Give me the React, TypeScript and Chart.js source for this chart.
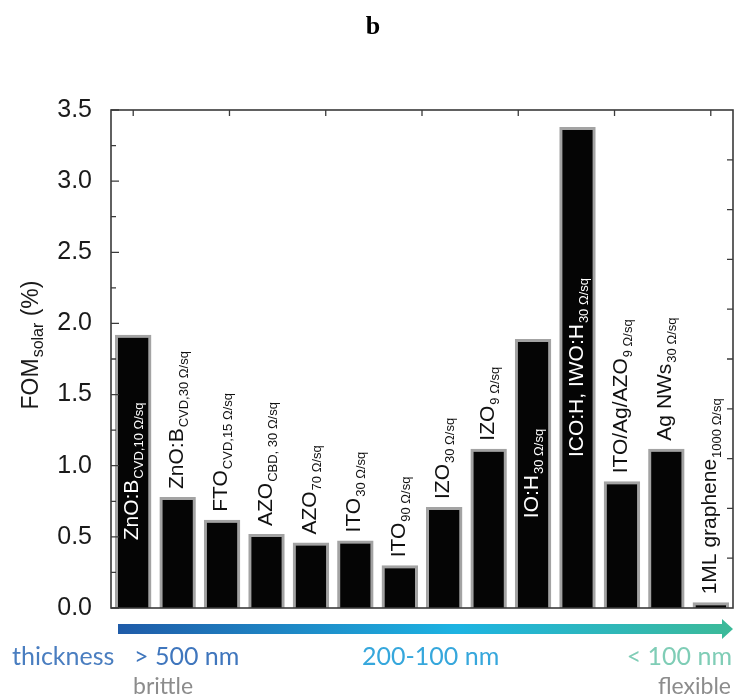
import React, { useEffect, useRef } from "react";
import { Chart, registerables } from "chart.js";

Chart.register(...registerables);

// Transparent conductor films and their solar figure of merit
const materials = [
  "ZnO:B", "ZnO:B", "FTO", "AZO", "AZO", "ITO", "ITO",
  "IZO", "IZO", "IO:H", "ICO:H, IWO:H", "ITO/Ag/AZO", "Ag NWs", "1ML graphene",
];
const subscripts = [
  "CVD,10 Ω/sq", "CVD,30 Ω/sq", "CVD,15 Ω/sq", "CBD, 30 Ω/sq", "70 Ω/sq", "30 Ω/sq", "90 Ω/sq",
  "30 Ω/sq", "9 Ω/sq", "30 Ω/sq", "30 Ω/sq", "9 Ω/sq", "30 Ω/sq", "1000 Ω/sq",
];
const fomSolar = [1.92, 0.78, 0.62, 0.52, 0.46, 0.475, 0.3, 0.71, 1.12, 1.89, 3.38, 0.89, 1.12, 0.04];
// captions written in white inside the bar (true) or in black above it
const captionInside = [true, false, false, false, false, false, false, false, false, true, true, false, false, false];

const yMajorTicks = [0, 0.5, 1.0, 1.5, 2.0, 2.5, 3.0, 3.5];
const yMinorTicks = [0.25, 0.75, 1.25, 1.75, 2.25, 2.75, 3.25];

const thicknessTitle = "thickness";
const thicknessLabels = ["> 500 nm", "200-100 nm", "< 100 nm"];
const flexLabels = ["brittle", "flexible"];
const panelLetter = "b";

const SANS = '"Liberation Sans", Arial, sans-serif';
const SOFT = 'Lato, "Open Sans", sans-serif';

function drawRotatedCaption(
  ctx: CanvasRenderingContext2D,
  x: number,
  yStart: number,
  main: string,
  sub: string,
  color: string,
  centered: boolean
) {
  const mainSize = 21;
  const subSize = 13;
  ctx.save();
  ctx.font = `${mainSize}px ${SANS}`;
  const wMain = ctx.measureText(main).width;
  ctx.font = `${subSize}px ${SANS}`;
  const wSub = ctx.measureText(sub).width;
  const total = wMain + 1 + wSub;
  const start = centered ? yStart + total / 2 : yStart;
  ctx.translate(x, start);
  ctx.rotate(-Math.PI / 2);
  ctx.fillStyle = color;
  ctx.textAlign = "left";
  ctx.textBaseline = "alphabetic";
  const base = 5;
  ctx.font = `${mainSize}px ${SANS}`;
  ctx.fillText(main, 0, base);
  ctx.font = `${subSize}px ${SANS}`;
  ctx.fillText(sub, wMain + 1, base + 5);
  ctx.restore();
}

const captionPlugin = {
  id: "barCaptions",
  afterDatasetsDraw(chart: any) {
    const ctx: CanvasRenderingContext2D = chart.ctx;
    const meta = chart.getDatasetMeta(0);
    meta.data.forEach((bar: any, i: number) => {
      if (captionInside[i]) {
        const mid = (bar.y + bar.base) / 2;
        drawRotatedCaption(ctx, bar.x, mid, materials[i], subscripts[i], "#ffffff", true);
      } else {
        drawRotatedCaption(ctx, bar.x, bar.y - 8, materials[i], subscripts[i], "#111111", false);
      }
    });
  },
};

const framePlugin = {
  id: "frameAndNotes",
  afterDraw(chart: any) {
    const ctx: CanvasRenderingContext2D = chart.ctx;
    const { left, right, top, bottom } = chart.chartArea;
    const y = chart.scales.y;
    const x = chart.scales.x;
    ctx.save();
    ctx.strokeStyle = "#3a3a3a";
    ctx.lineWidth = 1.6;
    ctx.strokeRect(left, top, right - left, bottom - top);

    ctx.lineWidth = 1.3;
    ctx.beginPath();
    // left axis: major and minor ticks pointing inward
    yMajorTicks.forEach((v) => {
      const py = y.getPixelForValue(v);
      ctx.moveTo(left, py);
      ctx.lineTo(left + 8, py);
    });
    yMinorTicks.forEach((v) => {
      const py = y.getPixelForValue(v);
      ctx.moveTo(left, py);
      ctx.lineTo(left + 5, py);
    });
    // right axis: ten even divisions
    for (let k = 1; k < 10; k++) {
      const py = bottom - ((bottom - top) * k) / 10;
      ctx.moveTo(right, py);
      ctx.lineTo(right - 6, py);
    }
    // top axis: seven ticks spanning the first to the last bar
    const x0 = x.getPixelForValue(0);
    const x1 = x.getPixelForValue(materials.length - 1);
    for (let k = 0; k <= 6; k++) {
      const px = x0 + ((x1 - x0) * k) / 6;
      ctx.moveTo(px, top);
      ctx.lineTo(px, top + 6);
    }
    ctx.stroke();

    // y axis title with subscript
    ctx.save();
    ctx.translate(38, 345);
    ctx.rotate(-Math.PI / 2);
    ctx.fillStyle = "#1a1a1a";
    ctx.textBaseline = "alphabetic";
    ctx.textAlign = "left";
    ctx.font = `23px ${SANS}`;
    const a = "FOM";
    const b = "solar";
    const c = " (%)";
    const wa = ctx.measureText(a).width;
    const wc = ctx.measureText(c).width;
    ctx.font = `16px ${SANS}`;
    const wb = ctx.measureText(b).width;
    const total = wa + wb + 1 + wc;
    let cx = -total / 2;
    ctx.font = `23px ${SANS}`;
    ctx.fillText(a, cx, 0);
    cx += wa + 1;
    ctx.font = `16px ${SANS}`;
    ctx.fillText(b, cx, 5);
    cx += wb;
    ctx.font = `23px ${SANS}`;
    ctx.fillText(c, cx, 0);
    ctx.restore();

    // thickness gradient arrow
    const ax0 = 118;
    const ax1 = 733;
    const ay = 629;
    const grad = ctx.createLinearGradient(ax0, 0, ax1, 0);
    grad.addColorStop(0, "#1f5ba8");
    grad.addColorStop(0.55, "#1db3e2");
    grad.addColorStop(1, "#3cba98");
    ctx.fillStyle = grad;
    ctx.beginPath();
    ctx.moveTo(ax0, ay - 5);
    ctx.lineTo(ax1 - 11, ay - 5);
    ctx.lineTo(ax1 - 11, ay - 10);
    ctx.lineTo(ax1, ay);
    ctx.lineTo(ax1 - 11, ay + 10);
    ctx.lineTo(ax1 - 11, ay + 5);
    ctx.lineTo(ax0, ay + 5);
    ctx.closePath();
    ctx.fill();

    ctx.textBaseline = "alphabetic";
    ctx.font = `25px ${SOFT}`;
    ctx.textAlign = "left";
    ctx.fillStyle = "#4a7ec0";
    ctx.fillText(thicknessTitle, 12, 665);
    ctx.fillStyle = "#3f76bd";
    ctx.fillText(thicknessLabels[0], 134, 665);
    ctx.fillStyle = "#36a7dc";
    ctx.fillText(thicknessLabels[1], 362, 665);
    ctx.textAlign = "right";
    ctx.fillStyle = "#7fcdb6";
    ctx.fillText(thicknessLabels[2], 732, 665);

    ctx.font = `23px ${SOFT}`;
    ctx.fillStyle = "#8c8c8c";
    ctx.textAlign = "left";
    ctx.fillText(flexLabels[0], 133, 694);
    ctx.textAlign = "right";
    ctx.fillText(flexLabels[1], 731, 694);

    // panel letter
    ctx.font = `bold 26px "Liberation Serif", "DejaVu Serif", serif`;
    ctx.fillStyle = "#000000";
    ctx.textAlign = "center";
    ctx.fillText(panelLetter, 373, 34);
    ctx.restore();
  },
};

export default function App() {
  const canvasRef = useRef<HTMLCanvasElement | null>(null);

  useEffect(() => {
    if (!canvasRef.current) return;
    const chart = new Chart(canvasRef.current, {
      type: "bar",
      data: {
        labels: materials.map((m, i) => `${m} ${subscripts[i]}`),
        datasets: [
          {
            data: fomSolar,
            backgroundColor: "#050505",
            borderColor: "#a3a3a3",
            borderWidth: 3,
            borderSkipped: "bottom",
            barPercentage: 0.82,
            categoryPercentage: 1,
          },
        ],
      },
      options: {
        responsive: false,
        animation: false,
        layout: { padding: { left: 0, right: 3, top: 110, bottom: 91 } },
        plugins: { legend: { display: false }, tooltip: { enabled: false }, title: { display: false } },
        scales: {
          x: { display: false, offset: true },
          y: {
            min: 0,
            max: 3.5,
            afterFit: (s: any) => {
              s.width = 111;
            },
            afterBuildTicks: (s: any) => {
              s.ticks = yMajorTicks.map((v) => ({ value: v }));
            },
            grid: { display: false, drawTicks: false },
            border: { display: false },
            ticks: {
              padding: 19,
              color: "#1a1a1a",
              font: { family: SANS, size: 25 },
              callback: (v: any) => Number(v).toFixed(1),
            },
          },
        },
      },
      plugins: [captionPlugin, framePlugin],
    });
    return () => chart.destroy();
  }, []);

  return (
    <div style={{ position: "absolute", left: 0, top: 0, width: 736, height: 699, background: "#ffffff" }}>
      <canvas ref={canvasRef} width={736} height={699} />
    </div>
  );
}
